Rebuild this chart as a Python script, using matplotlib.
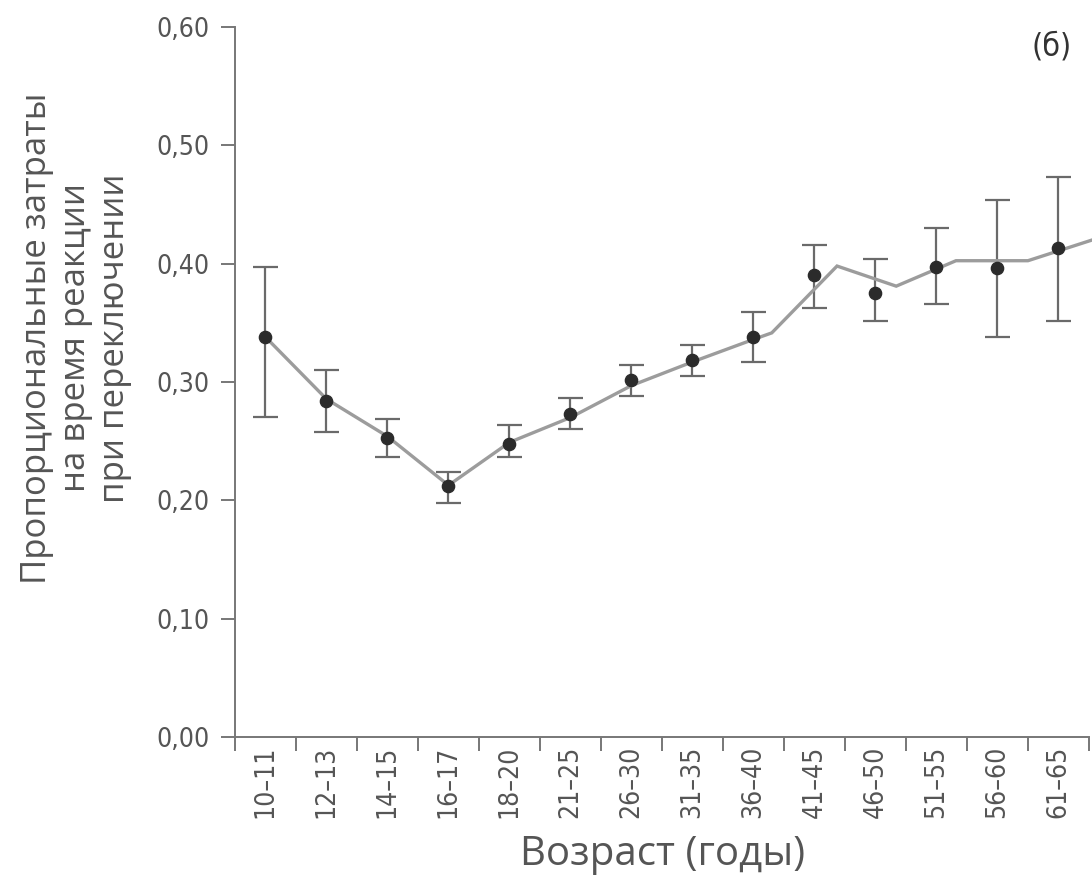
import numpy as np
import matplotlib
matplotlib.use('Agg')
import matplotlib.pyplot as plt
from matplotlib.ticker import FixedLocator, FuncFormatter

ages = ['10–11', '12–13', '14–15', '16–17', '18–20', '21–25', '26–30',
        '31–35', '36–40', '41–45', '46–50', '51–55', '56–60', '61–65']
means = [0.338, 0.284, 0.2525, 0.212, 0.2475, 0.273, 0.3017,
         0.3186, 0.338, 0.3907, 0.3754, 0.397, 0.3966, 0.4136]
upper = [0.397, 0.310, 0.2686, 0.2237, 0.2636, 0.2864, 0.3144,
         0.331, 0.359, 0.416, 0.404, 0.4305, 0.454, 0.473]
lower = [0.270, 0.2576, 0.237, 0.1975, 0.237, 0.260, 0.288,
         0.305, 0.317, 0.3627, 0.3517, 0.366, 0.338, 0.3517]

# fitted curve, vertices (x in category units)
fit_x = [0, 1, 2, 3, 4, 5, 6, 7, 8, 8.30, 9.37, 10.34, 11.32, 12.50, 13.6]
fit_y = [0.338, 0.2856, 0.254, 0.2127, 0.249, 0.270, 0.297, 0.317, 0.336,
         0.3415, 0.398, 0.381, 0.4025, 0.4025, 0.4208]

yticks = [0.0, 0.1, 0.2, 0.3, 0.4, 0.5, 0.6]

tick_font = ['DejaVu Sans']
label_font = ['Open Sans', 'DejaVu Sans']
grey = '#555555'

fig = plt.figure(figsize=(10.92, 8.80), dpi=100)
ax = fig.add_axes([235 / 1092, 143 / 880, 1 - 235 / 1092, 710 / 880])

x = np.arange(len(ages))
means = np.array(means)
err = [means - np.array(lower), np.array(upper) - means]

ax.errorbar(x, means, yerr=err, fmt='none', ecolor='#6a6a6a', elinewidth=1.6,
            capsize=9, capthick=1.6, zorder=2)
ax.plot(fit_x, fit_y, color='#9c9c9c', lw=2.4, zorder=3, solid_joinstyle='miter')
ax.plot(x, means, 'o', color='#2b2b2b', markersize=8.8, zorder=4)

ax.set_xlim(-0.5, 13.55)
ax.set_ylim(0, 0.6)

for s in ['top', 'right']:
    ax.spines[s].set_visible(False)
ax.spines['left'].set_bounds(0, 0.6)
ax.spines['bottom'].set_bounds(-0.5, 13.5)
for s in ['left', 'bottom']:
    ax.spines[s].set_color('#777777')
    ax.spines[s].set_linewidth(1.4)

ax.xaxis.set_major_locator(FixedLocator(np.arange(-0.5, 14, 1)))
ax.xaxis.set_minor_locator(FixedLocator(x))
ax.set_xticklabels([], minor=False)
ax.set_xticklabels(ages, minor=True, rotation=90, fontsize=19,
                   family=tick_font, fontstretch='condensed', color=grey)
ax.tick_params(axis='x', which='major', length=10, width=1.4, color='#777777')
ax.tick_params(axis='x', which='minor', length=0, pad=6)

ax.set_yticks(yticks)
ax.yaxis.set_major_formatter(FuncFormatter(lambda v, p: f'{v:.2f}'.replace('.', ',')))
ax.tick_params(axis='y', length=10, width=1.4, color='#777777', pad=8)
for lab in ax.get_yticklabels():
    lab.set_family(tick_font)
    lab.set_stretch('condensed')
    lab.set_fontsize(19)
    lab.set_color(grey)

fig.text(76 / 1092, 1 - 338 / 880,
         'Пропорциональные затраты\nна время реакции\nпри переключении',
         rotation=90, ha='center', va='center', multialignment='center',
         fontsize=25, family=label_font, color=grey, linespacing=1.2)
fig.text(663 / 1092, 1 - 855 / 880, 'Возраст (годы)', ha='center', va='center',
         fontsize=29, family=label_font, color=grey)
fig.text(1052 / 1092, 1 - 47 / 880, '(б)', ha='center', va='center',
         fontsize=23, family=tick_font, fontstretch='condensed', color='#333333')

fig.savefig('out.png', dpi=100)
